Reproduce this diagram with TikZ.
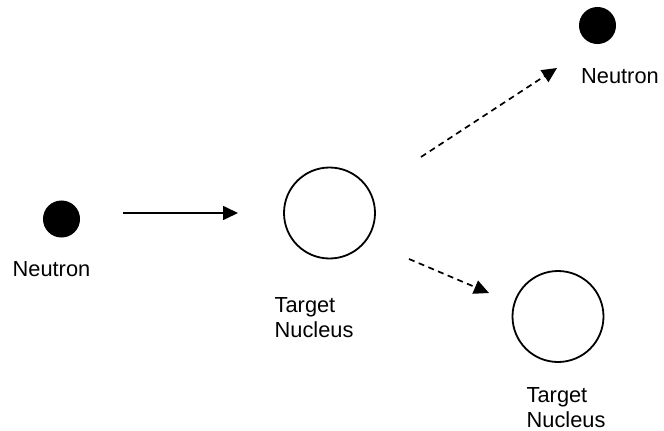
\documentclass[tikz,border=0pt]{standalone}
\usepackage{fontspec}
\setmainfont{Liberation Sans}
\usetikzlibrary{arrows.meta}
\begin{document}
\begin{tikzpicture}[x=1pt,y=-1pt,
  neutron/.style={circle,fill=black,draw=black,line width=1pt,minimum size=36pt,inner sep=0pt},
  nucleus/.style={circle,draw=black,line width=1.8pt,minimum size=91pt,inner sep=0pt},
  lbl/.style={anchor=base west,inner sep=0pt,align=left,font=\fontsize{21.8}{25}\selectfont},
  conn/.style={line width=1.7pt,-{Triangle[length=15pt,width=14pt]}},
  dconn/.style={conn,dash pattern=on 6pt off 4.5pt}]
\useasboundingbox (0,0) rectangle (664,431);
\node[neutron] (n1) at (61.5,219) {};
\node[lbl] (n1l) at (12.5,276.5) {Neutron};
\node[nucleus] (t1) at (329.5,213) {};
\node[lbl] (t1l) at (274.5,337) {Target\\Nucleus};
\node[nucleus] (t2) at (558,316.5) {};
\node[lbl] (t2l) at (526.5,427) {Target\\Nucleus};
\node[neutron] (n2) at (597.5,25.5) {};
\node[lbl] (n2l) at (581,83) {Neutron};
\coordinate (a1s) at (123,213);
\coordinate (a1e) at (238,213);
\coordinate (a2s) at (409,259);
\coordinate (a2e) at (489,293);
\coordinate (a3s) at (421,157);
\coordinate (a3e) at (557,68);
\draw[conn] (a1s) -- (a1e);
\draw[dconn] (a2s) -- (a2e);
\draw[dconn] (a3s) -- (a3e);
\end{tikzpicture}
\end{document}
